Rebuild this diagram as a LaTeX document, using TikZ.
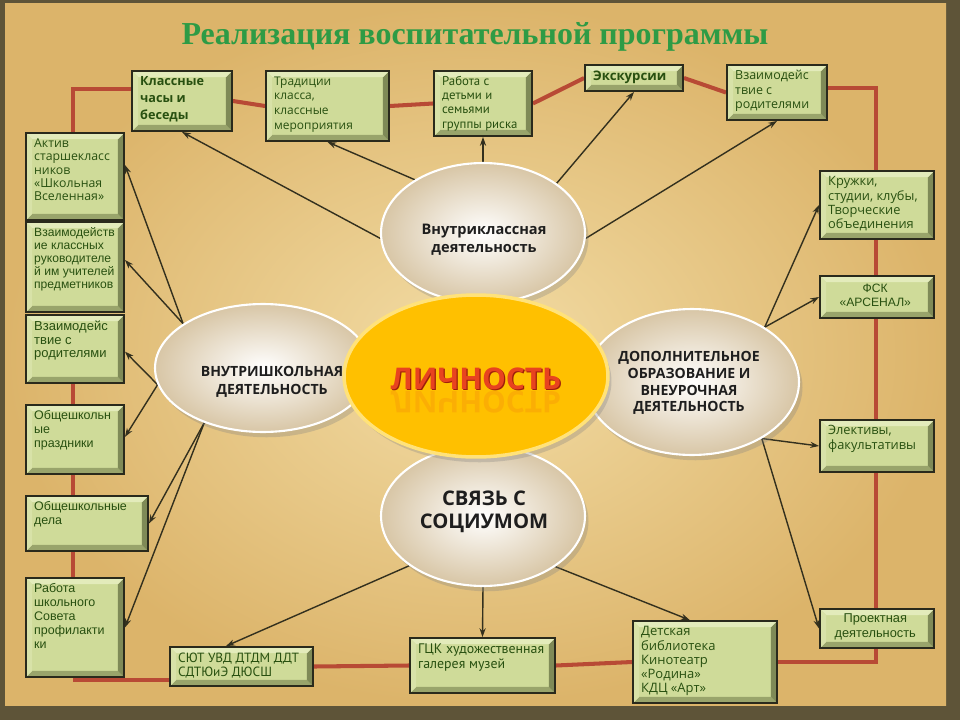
\documentclass[tikz,border=0pt]{standalone}
\usepackage{fontspec}
\setmainfont{Liberation Serif}
\newfontfamily\fA{Liberation Sans}
\newfontfamily\fG{Open Sans}
\newfontfamily\fN{PT Sans}
\usetikzlibrary{shapes.geometric,arrows.meta,fit,shadows}
\pgfdeclarelayer{bg}\pgfdeclarelayer{lines}
\pgfsetlayers{bg,lines,main}
\definecolor{boxface}{HTML}{CFDB99}
\definecolor{bevtop}{HTML}{E3EBBB}
\definecolor{bevleft}{HTML}{D8E2A8}
\definecolor{bevbot}{HTML}{99A46B}
\definecolor{bevright}{HTML}{7F8A57}
\definecolor{boxedge}{HTML}{2A2A1C}
\definecolor{txtg}{HTML}{285010}
\definecolor{redc}{HTML}{B84A35}
\definecolor{arrc}{HTML}{33301E}
\definecolor{titleg}{HTML}{2E9B45}
\definecolor{parchL}{HTML}{F3DDA6}
\definecolor{parchD}{HTML}{DCB46A}
\definecolor{framec}{HTML}{5E5438}
\definecolor{ellout}{HTML}{D8C6A6}
\definecolor{lichy}{HTML}{FFC000}
\definecolor{lichrim}{HTML}{FFE27A}
\definecolor{lichred}{HTML}{E8431F}
\definecolor{lichdark}{HTML}{9E1E0A}
\definecolor{etxtc}{HTML}{1E1E1E}
\tikzset{
  gbox/.style={draw=boxedge, line width=1.1pt, fill=boxface, inner sep=0pt,
    path picture={
      \fill[bevbot] (path picture bounding box.south west) -- (path picture bounding box.south east) -- ([shift={(-3.5pt,3.5pt)}]path picture bounding box.south east) -- ([shift={(3.5pt,3.5pt)}]path picture bounding box.south west) -- cycle;
      \fill[bevright] (path picture bounding box.south east) -- (path picture bounding box.north east) -- ([shift={(-3.5pt,-3.5pt)}]path picture bounding box.north east) -- ([shift={(-3.5pt,3.5pt)}]path picture bounding box.south east) -- cycle;
      \fill[bevtop] (path picture bounding box.north west) -- (path picture bounding box.north east) -- ([shift={(-3.5pt,-3.5pt)}]path picture bounding box.north east) -- ([shift={(3.5pt,-3.5pt)}]path picture bounding box.north west) -- cycle;
      \fill[bevleft] (path picture bounding box.north west) -- (path picture bounding box.south west) -- ([shift={(3.5pt,3.5pt)}]path picture bounding box.south west) -- ([shift={(3.5pt,-3.5pt)}]path picture bounding box.north west) -- cycle;
    }},
  gtxt/.style={inner sep=0pt, text=txtg, align=left},
  ell/.style={ellipse, inner sep=0pt, draw=white, line width=1.2pt, inner color=white, outer color=ellout,
    drop shadow={shadow xshift=2pt, shadow yshift=-3pt, opacity=0.3}},
  lichell/.style={ellipse, inner sep=0pt, fill=lichy, draw=lichrim, line width=2pt,
    drop shadow={shadow xshift=2pt, shadow yshift=-3pt, opacity=0.3}},
  etxt/.style={inner sep=0pt, text=etxtc, align=center},
  lichtx/.style={inner sep=0pt, font={\fG\bfseries\fontsize{17}{20}\selectfont}},
  redl/.style={draw=redc, line width=2.3pt},
  arr/.style={draw=arrc, line width=0.8pt, -{Stealth[length=5pt,width=3.5pt]}}
}
\newcommand\gbx[7]{%
  \node[gbox, fit={(#2,#3)(#4,#5)}] (#1) {};
  \node[gtxt, font={#6}, anchor=north west] (#1-t) at ([xshift=5pt,yshift=-3.5pt]#1.north west) {#7};}
\newcommand\gbxc[7]{%
  \node[gbox, fit={(#2,#3)(#4,#5)}] (#1) {};
  \node[gtxt, font={#6}, align=center] (#1-t) at ([xshift=-1pt,yshift=1pt]#1.center) {#7};}
\begin{document}
\begin{tikzpicture}[x=0.02cm,y=-0.02cm]
\useasboundingbox (0,0) rectangle (960,720);
\begin{pgfonlayer}{bg}
  \fill[framec] (0,0) rectangle (960,720);
  \shade[inner color=parchL, outer color=parchD] (5,3) rectangle (946,705);
\end{pgfonlayer}
% title
\node[font={\bfseries\fontsize{18.2}{22}\selectfont}, text=titleg, inner sep=0pt] (title) at (475,37) {Реализация воспитательной программы};
% top row
\gbx{klass}{132}{71}{232}{131}{\fG\bfseries\fontsize{7.2}{9.6}\selectfont}{Классные\\часы и\\беседы}
\gbx{trad}{266}{71}{389}{141}{\fG\fontsize{6.8}{8.5}\selectfont}{Традиции\\класса,\\классные\\мероприятия}
\gbx{rabota}{434}{71}{532}{136}{\fN\fontsize{7.3}{8}\selectfont}{Работа с\\детьми и\\семьями\\группы риска}
\gbx{ekskurs}{585}{65}{683}{91}{\fG\bfseries\fontsize{7.5}{8.5}\selectfont}{Экскурсии}
\gbx{vzaim}{727}{65}{827}{120}{\fG\fontsize{7.1}{8.2}\selectfont}{Взаимодейс\\твие с\\родителями}
% left column
\gbx{aktiv}{26}{133}{124}{220}{\fG\fontsize{7}{7.6}\selectfont}{Актив\\старшекласс\\ников\\«Школьная\\Вселенная»}
\gbx{vzk}{26}{222}{124}{312}{\fA\fontsize{6.9}{7.4}\selectfont}{Взаимодейств\\ие классных\\руководителе\\й им учителей\\предметников}
\gbx{vrod}{26}{315}{124}{383}{\fA\fontsize{7.4}{7.9}\selectfont}{Взаимодейс\\твие с\\родителями}
\gbx{prazd}{26}{405}{124}{474}{\fA\fontsize{7.1}{7.9}\selectfont}{Общешкольн\\ые\\праздники}
\gbx{dela}{26}{496}{148}{551}{\fA\fontsize{7.1}{7.9}\selectfont}{Общешкольные\\дела}
\gbx{sovet}{26}{578}{124}{677}{\fA\fontsize{7.1}{7.9}\selectfont}{Работа\\школьного\\Совета\\профилакти\\ки}
% right column
\gbx{kruzh}{820}{171}{934}{239}{\fG\fontsize{7.3}{8.2}\selectfont}{Кружки,\\студии, клубы,\\Творческие\\объединения}
\gbxc{fsk}{820}{276}{934}{318}{\fA\fontsize{6.9}{8}\selectfont}{ФСК\\«АРСЕНАЛ»}
\gbx{elect}{820}{420}{934}{472}{\fG\fontsize{7.3}{8.4}\selectfont}{Элективы,\\факультативы}
\gbxc{proj}{820}{609}{934}{648}{\fA\fontsize{7.3}{8.4}\selectfont}{Проектная\\деятельность}
% bottom row
\gbx{syut}{170}{647}{313}{686}{\fN\fontsize{7.6}{8}\selectfont}{СЮТ УВД ДТДМ ДДТ\\СДТЮиЭ ДЮСШ}
\gbx{gck}{410}{638}{555}{693}{\fN\fontsize{7.9}{8.4}\selectfont}{ГЦК художественная\\галерея музей}
\gbx{det}{633}{621}{777}{703}{\fG\fontsize{7.4}{8.1}\selectfont}{Детская\\библиотека\\Кинотеатр\\«Родина»\\КДЦ «Арт»}
% ellipses
\node[ell, minimum width=4.08cm, minimum height=2.8cm] (intra) at (483,233) {};
\node[ell, minimum width=4.32cm, minimum height=2.56cm] (school) at (263,368) {};
\node[ell, minimum width=4.28cm, minimum height=2.92cm] (dop) at (692,382) {};
\node[ell, minimum width=4.08cm, minimum height=2.8cm] (sviaz) at (483,516) {};
\node[lichell, minimum width=5.28cm, minimum height=3.24cm] (lich) at (476,376) {};
\node[etxt, font={\fG\bfseries\fontsize{8.3}{10.2}\selectfont}] (intra-t) at (484,240) {Внутриклассная\\деятельность};
\node[etxt, font={\fG\bfseries\fontsize{8}{10}\selectfont}] (school-t) at (272,382) {ВНУТРИШКОЛЬНАЯ\\ДЕЯТЕЛЬНОСТЬ};
\node[etxt, font={\fG\bfseries\fontsize{8}{9.6}\selectfont}] (dop-t) at (689,383) {ДОПОЛНИТЕЛЬНОЕ\\ОБРАЗОВАНИЕ И\\ВНЕУРОЧНАЯ\\ДЕЯТЕЛЬНОСТЬ};
\node[etxt, font={\fG\bfseries\fontsize{11.5}{13}\selectfont}] (sviaz-t) at (484,512) {СВЯЗЬ С\\СОЦИУМОМ};
\node[lichtx, text=lichred, opacity=0.14] (lich-r) at (476,402) {\scalebox{1}[-1]{ЛИЧНОСТЬ}};
\node[lichtx, text=lichdark] (lich-s) at ([xshift=0.7pt,yshift=-0.7pt]476,379) {ЛИЧНОСТЬ};
\node[lichtx, text=lichred] (lich-t) at (476,379) {ЛИЧНОСТЬ};
% connectors
\begin{pgfonlayer}{lines}
  \coordinate (cTL) at (73,89);
  \coordinate (cTR) at (876,88);
  \coordinate (cBR) at (876,662);
  \coordinate (cBL) at (75,680);
  \draw[redl] (aktiv.north -| cTL) -- (cTL) -- (klass.west |- cTL);
  \draw[redl] (klass.east) -- (trad.west);
  \draw[redl] (trad.east) -- (rabota.west);
  \draw[redl] (rabota.east) -- (ekskurs.west);
  \draw[redl] (ekskurs.east) -- (vzaim.west);
  \draw[redl] (vzaim.east |- cTR) -- (cTR) -- (kruzh.north -| cTR);
  \draw[redl] (kruzh.south -| cTR) -- (fsk.north -| cTR);
  \draw[redl] (fsk.south -| cTR) -- (elect.north -| cTR);
  \draw[redl] (elect.south -| cTR) -- (proj.north -| cTR);
  \draw[redl] (proj.south -| cBR) -- (cBR) -- (det.east |- cBR);
  \draw[redl] (det.west) -- (gck.east);
  \draw[redl] (gck.west) -- (syut.east);
  \draw[redl] (syut.west |- cBL) -- (cBL) -- (sovet.south -| cBL);
  \draw[redl] (vrod.south -| cTL) -- (prazd.north -| cTL);
  \draw[redl] (prazd.south -| cTL) -- (dela.north -| cTL);
  \draw[redl] (dela.south -| cTL) -- (sovet.north -| cTL);
  % arrows
  \draw[arr] (intra.183) -- (klass.south);
  \draw[arr] (intra.142) -- (trad.south);
  \draw[arr] (intra.90) -- (rabota.south);
  \draw[arr] (intra.34) -- (ekskurs.south);
  \draw[arr] (intra.357) -- (vzaim.south);
  \draw[arr] (school.151) -- (aktiv.13);
  \draw[arr] (school.151) -- (vzk.8);
  \draw[arr] (school.189) -- (vrod.357);
  \draw[arr] (school.189) -- (prazd.3);
  \draw[arr] (school.223) -- (dela.east);
  \draw[arr] (school.223) -- (sovet.east);
  \draw[arr] (dop.37) -- (kruzh.west);
  \draw[arr] (dop.37) -- (fsk.west);
  \draw[arr] (dop.321) -- (elect.west);
  \draw[arr] (dop.321) -- (proj.west);
  \draw[arr] (sviaz.214) -- (syut.127);
  \draw[arr] (sviaz.270) -- (gck.north);
  \draw[arr] (sviaz.325) -- (det.110);
\end{pgfonlayer}
\end{tikzpicture}
\end{document}
